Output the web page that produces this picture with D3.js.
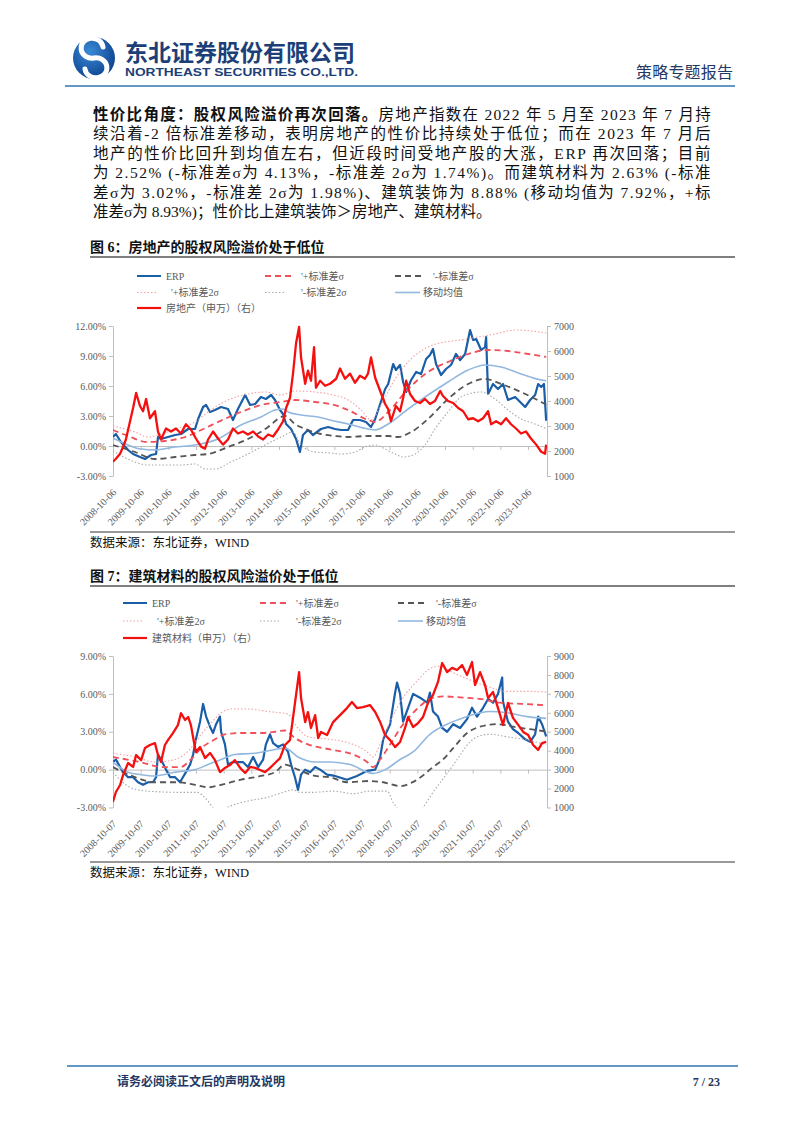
<!DOCTYPE html>
<html><head><meta charset="utf-8">
<script src="https://cdn.jsdelivr.net/npm/d3@7"></script>
<style>body{margin:0;background:#fff;} svg{display:block;}</style>
</head><body>
<svg id="page" width="802" height="1133"></svg>
<script>
// ---------------- DATA ----------------
// dates are decimal years
const xTickLabels1 = ["2008-10-06","2009-10-06","2010-10-06","2011-10-06","2012-10-06","2013-10-06","2014-10-06","2015-10-06","2016-10-06","2017-10-06","2018-10-06","2019-10-06","2020-10-06","2021-10-06","2022-10-06","2023-10-06"];
const xTickLabels2 = ["2008-10-07","2009-10-07","2010-10-07","2011-10-07","2012-10-07","2013-10-07","2014-10-07","2015-10-07","2016-10-07","2017-10-07","2018-10-07","2019-10-07","2020-10-07","2021-10-07","2022-10-07","2023-10-07"];
const leftTicks1 = [-3,0,3,6,9,12];
const rightTicks1 = [1000,2000,3000,4000,5000,6000,7000];
const leftTicks2 = [-3,0,3,6,9];
const rightTicks2 = [1000,2000,3000,4000,5000,6000,7000,8000,9000];

const erp1 = [[2008.76,0.9],[2008.87,1.2],[2009.05,0.4],[2009.31,-0.4],[2009.49,-0.8],[2009.74,-1.1],[2009.92,-1.3],[2010.14,-0.9],[2010.32,-0.8],[2010.39,0.9],[2010.50,0.7],[2010.75,0.9],[2011.01,1.1],[2011.22,1.2],[2011.48,1.7],[2011.73,1.7],[2011.84,2.7],[2012.02,3.9],[2012.13,4.1],[2012.27,3.4],[2012.45,3.6],[2012.67,3.9],[2012.92,3.7],[2013.10,2.6],[2013.28,3.7],[2013.54,5.1],[2013.72,4.1],[2013.90,4.2],[2014.11,4.9],[2014.29,4.7],[2014.48,5.1],[2014.62,4.6],[2014.80,3.6],[2014.91,3.2],[2015.02,2.2],[2015.20,1.7],[2015.38,0.7],[2015.52,-0.6],[2015.63,1.1],[2015.81,1.6],[2015.99,1.1],[2016.28,1.7],[2016.54,1.9],[2016.79,1.7],[2017.01,1.6],[2017.26,1.6],[2017.44,2.6],[2017.69,2.6],[2017.91,2.4],[2018.09,1.9],[2018.24,2.7],[2018.42,4.2],[2018.60,5.7],[2018.71,6.2],[2018.89,8.2],[2018.99,7.6],[2019.14,8.1],[2019.25,6.4],[2019.36,5.4],[2019.54,6.6],[2019.72,7.4],[2019.90,7.2],[2020.08,8.7],[2020.22,9.1],[2020.33,9.7],[2020.44,8.2],[2020.62,7.1],[2020.80,7.7],[2020.98,8.1],[2021.16,9.2],[2021.31,8.6],[2021.49,9.2],[2021.67,11.6],[2021.78,10.6],[2021.89,10.7],[2022.07,9.6],[2022.21,9.9],[2022.25,10.9],[2022.32,5.2],[2022.50,6.2],[2022.68,5.7],[2022.86,6.2],[2023.04,4.6],[2023.30,4.9],[2023.48,4.4],[2023.66,3.9],[2023.84,4.6],[2024.02,5.1],[2024.13,6.2],[2024.24,5.9],[2024.34,6.2],[2024.42,2.52]];
const idx1 = [[2008.76,1570],[2008.87,1690],[2009.02,1890],[2009.13,2175],[2009.23,2460],[2009.38,3190],[2009.49,3720],[2009.60,4320],[2009.74,3800],[2009.85,3590],[2009.96,4080],[2010.10,3310],[2010.28,3590],[2010.39,2780],[2010.50,2460],[2010.68,2900],[2010.86,2780],[2011.04,2900],[2011.22,2700],[2011.40,3070],[2011.58,2860],[2011.76,2500],[2011.95,2175],[2012.09,2095],[2012.20,2460],[2012.38,2780],[2012.56,2500],[2012.74,2255],[2012.92,2460],[2013.10,2900],[2013.28,2700],[2013.46,2780],[2013.64,2660],[2013.83,2780],[2014.01,2580],[2014.19,2460],[2014.37,2660],[2014.55,2580],[2014.73,2860],[2014.91,3190],[2015.02,3720],[2015.16,4120],[2015.27,5095],[2015.38,6310],[2015.49,6960],[2015.56,5740],[2015.71,4690],[2015.81,5215],[2015.92,4810],[2016.03,6150],[2016.10,4530],[2016.25,4810],[2016.43,4610],[2016.61,4690],[2016.83,4890],[2016.97,5300],[2017.15,4890],[2017.33,5095],[2017.51,4730],[2017.69,5010],[2017.87,4890],[2017.98,5095],[2018.09,5740],[2018.24,4930],[2018.42,4400],[2018.60,3880],[2018.71,3675],[2018.81,3190],[2018.99,3800],[2019.14,3590],[2019.25,4120],[2019.36,4810],[2019.50,4280],[2019.68,4000],[2019.86,3920],[2020.04,4080],[2020.22,3880],[2020.40,4000],[2020.59,4400],[2020.69,4200],[2020.87,4000],[2021.06,3920],[2021.24,3720],[2021.42,3590],[2021.60,3270],[2021.78,3310],[2021.96,3190],[2022.14,3310],[2022.32,3590],[2022.43,3070],[2022.61,3190],[2022.79,3070],[2022.97,3310],[2023.15,3070],[2023.33,2900],[2023.51,2700],[2023.69,2780],[2023.87,2500],[2024.06,2255],[2024.24,1970],[2024.38,1890],[2024.42,2255]];
const mean1 = [[2008.76,0.8],[2009.31,0.1],[2009.78,-0.3],[2010.28,-0.4],[2011.01,-0.1],[2011.73,0.1],[2012.56,0.7],[2013.39,2.1],[2014.11,2.9],[2014.62,3.6],[2014.91,3.7],[2015.09,3.4],[2015.56,3.1],[2016.18,2.9],[2016.61,2.6],[2017.26,2.2],[2017.98,1.7],[2018.24,1.6],[2018.71,2.2],[2019.43,3.7],[2020.15,5.1],[2020.87,6.4],[2021.60,7.6],[2022.21,8.1],[2022.79,7.9],[2023.51,7.2],[2024.24,6.6],[2024.42,6.52]];
const up1 = [[2008.76,1.6],[2009.31,1.0],[2009.99,0.4],[2010.64,0.5],[2011.37,0.9],[2011.95,1.6],[2012.56,2.4],[2013.39,3.4],[2014.11,4.1],[2014.84,4.4],[2015.34,4.6],[2016.07,4.4],[2016.61,4.2],[2017.26,3.6],[2017.98,2.6],[2018.24,2.4],[2018.71,3.4],[2019.43,5.7],[2020.15,7.4],[2020.87,8.4],[2021.60,9.2],[2022.32,9.6],[2023.04,9.5],[2023.77,9.2],[2024.42,8.91]];
const dn1 = [[2008.76,0.1],[2009.56,-0.6],[2010.28,-1.3],[2011.01,-1.1],[2011.73,-0.9],[2012.20,-0.8],[2012.92,-0.1],[2013.64,0.7],[2014.37,1.9],[2014.84,2.9],[2014.98,3.0],[2015.34,2.2],[2015.81,1.6],[2016.28,1.2],[2016.79,1.0],[2017.26,0.9],[2017.98,1.0],[2018.71,1.0],[2019.07,0.9],[2019.54,1.4],[2020.15,2.7],[2020.87,4.7],[2021.60,6.2],[2022.21,6.7],[2022.79,6.2],[2023.51,5.4],[2024.24,4.4],[2024.42,4.13]];
const up2s1 = [[2008.76,2.0],[2009.56,1.4],[2010.03,0.9],[2010.39,1.1],[2011.01,1.7],[2011.73,2.4],[2012.20,3.4],[2012.92,4.6],[2013.64,5.2],[2014.26,5.4],[2014.84,5.1],[2015.34,5.5],[2016.07,5.4],[2016.54,5.2],[2017.26,4.6],[2017.73,3.6],[2018.09,2.6],[2018.45,4.1],[2018.96,6.7],[2019.54,8.7],[2020.15,9.9],[2020.77,10.4],[2021.34,10.6],[2021.96,10.9],[2022.57,11.2],[2023.30,11.6],[2023.87,11.5],[2024.42,11.30]];
const dn2s1 = [[2008.76,-0.5],[2009.56,-1.6],[2010.03,-1.9],[2010.50,-1.9],[2011.22,-1.9],[2011.73,-1.8],[2012.09,-2.3],[2012.45,-2.3],[2013.03,-1.6],[2013.64,-0.8],[2014.26,0.1],[2014.84,0.9],[2015.27,1.4],[2015.56,0.1],[2016.07,-0.6],[2016.61,-0.7],[2017.01,-0.8],[2017.51,-0.6],[2017.87,-0.1],[2018.24,0.1],[2018.60,-0.3],[2018.96,-0.8],[2019.25,-1.1],[2019.68,-0.8],[2020.04,0.1],[2020.40,1.7],[2020.87,3.4],[2021.34,4.9],[2021.60,5.2],[2022.07,5.4],[2022.57,4.7],[2023.04,3.6],[2023.51,2.7],[2024.02,2.2],[2024.42,1.74]];

const erp2 = [[2008.76,0.6],[2008.87,0.8],[2009.02,0.2],[2009.13,-0.2],[2009.31,-0.6],[2009.49,-0.6],[2009.67,-1.0],[2009.85,-1.2],[2010.03,-1.0],[2010.21,-1.0],[2010.32,-0.6],[2010.39,1.2],[2010.50,0.8],[2010.68,0.0],[2010.83,-0.6],[2011.01,-0.6],[2011.19,-1.0],[2011.29,-0.6],[2011.40,-0.2],[2011.55,0.4],[2011.66,1.2],[2011.76,2.4],[2011.91,3.8],[2012.02,5.2],[2012.13,4.2],[2012.27,3.4],[2012.38,2.9],[2012.49,3.6],[2012.63,4.2],[2012.67,3.0],[2012.81,2.0],[2012.92,0.4],[2013.10,0.6],[2013.28,0.6],[2013.46,0.6],[2013.64,0.2],[2013.83,1.0],[2014.01,0.2],[2014.19,0.8],[2014.29,2.0],[2014.44,2.8],[2014.55,2.1],[2014.73,1.8],[2014.91,2.0],[2015.09,1.4],[2015.20,0.4],[2015.34,-0.6],[2015.45,-1.6],[2015.56,-0.4],[2015.71,0.0],[2015.89,-0.2],[2016.07,0.2],[2016.25,0.0],[2016.50,-0.4],[2016.79,-0.5],[2017.22,-0.8],[2017.58,-0.5],[2017.95,-0.1],[2018.24,0.0],[2018.34,0.5],[2018.42,1.0],[2018.53,2.4],[2018.78,3.6],[2018.96,6.1],[2019.03,6.9],[2019.14,6.0],[2019.25,3.8],[2019.43,4.9],[2019.61,6.0],[2019.86,5.7],[2020.12,5.3],[2020.22,6.1],[2020.33,4.6],[2020.51,4.2],[2020.66,3.3],[2020.84,3.0],[2021.06,3.6],[2021.31,3.3],[2021.56,4.0],[2021.74,4.9],[2021.92,4.2],[2022.14,4.9],[2022.32,5.6],[2022.50,5.3],[2022.68,6.0],[2022.83,7.3],[2022.86,5.4],[2023.04,3.8],[2023.22,3.2],[2023.41,2.9],[2023.66,2.4],[2023.84,2.2],[2024.02,2.8],[2024.13,4.2],[2024.27,3.6],[2024.42,2.63]];
const idx2 = [[2008.76,1290],[2008.87,1820],[2009.02,2190],[2009.13,2720],[2009.31,3350],[2009.49,3140],[2009.60,3770],[2009.78,3500],[2009.92,4140],[2010.10,4300],[2010.28,4400],[2010.39,3770],[2010.50,3400],[2010.64,4300],[2010.75,4560],[2010.93,4930],[2011.11,5350],[2011.22,5980],[2011.37,5620],[2011.48,5780],[2011.58,5350],[2011.69,4460],[2011.76,3930],[2011.91,4190],[2012.09,3610],[2012.27,3880],[2012.45,3500],[2012.63,2870],[2012.81,3090],[2012.99,3240],[2013.17,3500],[2013.36,3090],[2013.54,2820],[2013.72,3140],[2013.90,3090],[2014.08,2980],[2014.26,2870],[2014.44,3090],[2014.62,3350],[2014.80,3610],[2014.98,4300],[2015.16,4560],[2015.27,5730],[2015.38,6940],[2015.49,8150],[2015.56,6780],[2015.71,5510],[2015.81,6040],[2015.92,5200],[2016.07,5880],[2016.18,4670],[2016.28,4990],[2016.50,4830],[2016.72,5510],[2016.97,5880],[2017.22,6250],[2017.40,6570],[2017.58,6250],[2017.80,6300],[2018.05,6410],[2018.24,6040],[2018.42,5510],[2018.60,4830],[2018.78,4560],[2018.96,4190],[2019.14,4460],[2019.32,5200],[2019.43,5780],[2019.61,5250],[2019.79,5460],[2019.97,5780],[2020.15,6520],[2020.33,6940],[2020.51,7630],[2020.66,8630],[2020.84,8150],[2021.02,8370],[2021.20,8260],[2021.38,8520],[2021.56,8000],[2021.74,8680],[2021.85,7470],[2022.03,8150],[2022.21,7470],[2022.32,6780],[2022.50,7100],[2022.68,6250],[2022.86,5360],[2023.04,6520],[2023.22,5730],[2023.41,5360],[2023.59,4990],[2023.77,4830],[2023.95,4300],[2024.13,4040],[2024.27,4400],[2024.42,4460]];
const mean2 = [[2008.76,0.6],[2009.31,-0.2],[2009.78,-0.4],[2010.28,-0.5],[2011.01,-0.2],[2011.73,0.0],[2012.20,0.4],[2012.67,0.8],[2013.17,1.2],[2013.90,1.3],[2014.62,1.6],[2014.98,1.7],[2015.45,1.0],[2016.07,0.6],[2016.61,0.6],[2017.33,0.4],[2018.16,-0.3],[2018.60,0.0],[2019.14,0.8],[2019.61,1.4],[2020.22,2.8],[2020.84,3.6],[2021.42,4.1],[2022.03,4.5],[2022.39,4.6],[2023.01,4.5],[2023.73,4.2],[2024.42,4.06]];
const up2 = [[2008.76,1.0],[2009.74,0.6],[2010.57,0.2],[2011.19,0.2],[2011.58,0.8],[2011.95,1.7],[2012.45,2.4],[2012.81,2.8],[2013.39,2.9],[2014.11,2.9],[2014.62,3.0],[2014.98,3.1],[2015.34,2.5],[2015.81,2.0],[2016.61,1.6],[2017.44,1.2],[2017.95,0.6],[2018.16,0.2],[2018.42,0.8],[2018.78,2.0],[2019.25,3.6],[2019.75,4.8],[2020.22,5.6],[2020.69,5.8],[2021.42,5.7],[2022.03,5.6],[2022.75,5.3],[2023.59,5.2],[2024.42,5.10]];
const dn2 = [[2008.76,0.2],[2009.56,-0.6],[2010.28,-1.0],[2011.01,-1.0],[2011.73,-1.2],[2012.20,-1.4],[2012.67,-1.2],[2013.39,-0.8],[2014.11,-0.5],[2014.62,-0.2],[2014.98,0.4],[2015.45,0.0],[2016.07,-0.5],[2016.61,-0.6],[2017.22,-1.0],[2018.05,-0.9],[2018.53,-1.0],[2019.14,-1.3],[2019.75,-0.8],[2020.33,0.2],[2020.69,0.8],[2021.06,1.7],[2021.56,2.9],[2022.03,3.4],[2022.65,3.6],[2023.22,3.4],[2023.84,3.2],[2024.42,3.02]];
const up2s2 = [[2008.76,1.3],[2009.56,1.0],[2010.28,0.6],[2011.01,0.8],[2011.58,1.7],[2011.95,2.8],[2012.31,3.7],[2012.67,4.5],[2013.03,4.8],[2013.64,4.8],[2014.37,4.6],[2015.09,4.4],[2015.34,3.6],[2015.81,2.6],[2016.61,2.4],[2017.44,2.0],[2017.95,1.4],[2018.16,1.0],[2018.42,2.0],[2018.78,3.8],[2019.25,5.7],[2019.75,7.0],[2020.22,8.0],[2020.59,8.2],[2020.95,7.8],[2021.56,7.2],[2022.28,6.6],[2023.01,6.2],[2023.73,6.2],[2024.42,6.14]];
const dn2s2 = [[2008.76,-0.2],[2009.38,-1.4],[2009.99,-1.7],[2011.19,-1.8],[2011.80,-1.8],[2012.16,-2.4],[2012.38,-3.0],[2012.63,-3.3],[2012.99,-2.9],[2013.61,-2.5],[2014.33,-2.2],[2014.91,-1.8],[2015.27,-1.6],[2015.52,-1.8],[2015.99,-1.8],[2016.72,-1.7],[2017.44,-1.9],[2018.05,-1.7],[2018.67,-1.7],[2018.89,-2.6],[2019.03,-3.0],[2019.32,-3.8],[2019.68,-3.8],[2019.97,-3.0],[2020.33,-1.8],[2020.84,-0.3],[2021.20,0.8],[2021.67,2.2],[2021.92,2.6],[2022.39,2.8],[2023.01,2.6],[2023.59,2.4],[2024.42,1.98]];

// ---------------- STYLE ----------------
const CJK = "'Noto Sans CJK SC', sans-serif";
const MIX = "'Liberation Serif', 'Noto Sans CJK SC', serif";
const SERIF = "'Liberation Serif', serif";
const C = {erp:'#1a5ea8', idx:'#f51010', up:'#f0505a', dn:'#555555', up2:'#f4a0a4', dn2:'#a8a8a8', mean:'#92b8e0', axis:'#bfbfbf', lab:'#595959'};

const svg = d3.select('#page');
svg.append('rect').attr('width',802).attr('height',1133).attr('fill','#fff');

// ---------------- HEADER ----------------
const hdr = svg.append('g');
const grad = svg.append('defs').append('radialGradient').attr('id','lg').attr('cx','40%').attr('cy','35%').attr('r','70%');
grad.append('stop').attr('offset','0%').attr('stop-color','#3a8ad6');
grad.append('stop').attr('offset','100%').attr('stop-color','#0c3f8c');
hdr.append('circle').attr('cx',94).attr('cy',58).attr('r',21).attr('fill','url(#lg)');
hdr.append('path').attr('d','M103 47 A11 10 0 1 0 94 58 A11 10 0 1 1 85 69').attr('fill','none').attr('stroke','#fff').attr('stroke-width',5).attr('stroke-linecap','round');
hdr.append('text').attr('x',125).attr('y',61).attr('font-family',CJK).attr('font-weight',700).attr('font-size',23).attr('fill','#1d3f78').attr('textLength',230).attr('lengthAdjust','spacingAndGlyphs').text('东北证券股份有限公司');
hdr.append('text').attr('x',125).attr('y',76).attr('font-family',"'Liberation Sans', sans-serif").attr('font-weight',700).attr('font-size',11).attr('fill','#1d3f78').attr('textLength',233).attr('lengthAdjust','spacingAndGlyphs').text('NORTHEAST SECURITIES CO.,LTD.');
hdr.append('text').attr('x',636).attr('y',78).attr('font-family',CJK).attr('font-size',16).attr('fill','#1f3864').attr('textLength',97).text('策略专题报告');
hdr.append('line').attr('x1',65).attr('x2',735).attr('y1',86).attr('y2',86).attr('stroke','#2e75b6').attr('stroke-width',1.5);

// ---------------- PARAGRAPH ----------------
const para = [
  [['性价比角度：股权风险溢价再次回落。',true],['房地产指数在 2022 年 5 月至 2023 年 7 月持',false]],
  [['续沿着-2 倍标准差移动，表明房地产的性价比持续处于低位；而在 2023 年 7 月后',false]],
  [['地产的性价比回升到均值左右，但近段时间受地产股的大涨，ERP 再次回落；目前',false]],
  [['为 2.52% (-标准差σ为 4.13%，-标准差 2σ为 1.74%)。而建筑材料为 2.63% (-标准',false]],
  [['差σ为 3.02%，-标准差 2σ为 1.98%)、建筑装饰为 8.88% (移动均值为 7.92%，+标',false]],
  [['准差σ为 8.93%)；性价比上建筑装饰＞房地产、建筑材料。',false]]
];
para.forEach((segs,i) => {
  const t = svg.append('text').attr('x',93).attr('y',120 + i*19.4).attr('font-family',MIX).attr('font-size',15.5).attr('fill','#111');
  segs.forEach(s => t.append('tspan').attr('font-weight', s[1]?700:400).text(s[0]));
  if (i < para.length-1) {
    const n = t.node().getNumberOfChars();
    const w = t.node().getComputedTextLength();
    t.attr('letter-spacing', Math.max(0,(619 - w)/n));
  }
});

// ---------------- CHART ----------------
const X0 = 2008.764, X1 = 2024.45;
function drawChart(cfg) {
  const g = svg.append('g');
  g.append('text').attr('x',90).attr('y',cfg.titleY).attr('font-family',MIX).attr('font-weight',700).attr('font-size',14).attr('fill','#111').text(cfg.title);
  g.append('line').attr('x1',90).attr('x2',735).attr('y1',cfg.titleY+5).attr('y2',cfg.titleY+5).attr('stroke','#555').attr('stroke-width',1.5);
  g.append('line').attr('x1',90).attr('x2',735).attr('y1',cfg.srcY-11).attr('y2',cfg.srcY-11).attr('stroke','#777').attr('stroke-width',1.5);
  g.append('text').attr('x',90).attr('y',cfg.srcY+4).attr('font-family',MIX).attr('font-size',12.5).attr('fill','#111').text('数据来源：东北证券，WIND');

  const x = d3.scaleLinear().domain([X0, X1]).range([113, 547]);
  const yL = d3.scaleLinear().domain([-3, cfg.lmax]).range([cfg.bottom, cfg.top]);
  const yR = d3.scaleLinear().domain([1000, cfg.rmax]).range([cfg.bottom, cfg.top]);

  const styleAxis = a => {
    a.select('.domain').attr('stroke',C.axis);
    a.selectAll('.tick line').attr('stroke',C.axis);
    a.selectAll('.tick text').attr('fill',C.lab).attr('font-family',SERIF).attr('font-size',10);
  };
  g.append('g').attr('transform','translate(113,0)')
    .call(d3.axisLeft(yL).tickValues(cfg.lticks).tickFormat(d=>d.toFixed(2)+'%').tickSize(4).tickSizeOuter(0).tickPadding(3)).call(styleAxis);
  g.append('g').attr('transform','translate(547,0)')
    .call(d3.axisRight(yR).tickValues(cfg.rticks).tickFormat(d=>d).tickSize(4).tickSizeOuter(0).tickPadding(3)).call(styleAxis);
  const tickYears = cfg.xlabels.map((s,i)=> X0 + i);
  g.append('g').attr('transform',`translate(0,${yL(0)})`)
    .call(d3.axisBottom(x).tickValues(tickYears).tickFormat('').tickSize(4).tickSizeOuter(0)).call(styleAxis);
  g.append('g').selectAll('text').data(cfg.xlabels).join('text')
    .attr('transform',(d,i)=>`translate(${x(tickYears[i])+4},${cfg.bottom+17}) rotate(-45)`)
    .attr('text-anchor','end').attr('font-family',SERIF).attr('font-size',10).attr('fill',C.lab).text(d=>d);

  const cid = 'clip'+cfg.id;
  svg.select('defs').append('clipPath').attr('id',cid).append('rect')
    .attr('x',113).attr('y',cfg.top-2).attr('width',434).attr('height',cfg.bottom-cfg.top+2);
  const pl = g.append('g').attr('clip-path',`url(#${cid})`);
  const lineL = d3.line().x(d=>x(d[0])).y(d=>yL(d[1]));
  const smoothL = d3.line().x(d=>x(d[0])).y(d=>yL(d[1])).curve(d3.curveMonotoneX);
  const lineR = d3.line().x(d=>x(d[0])).y(d=>yR(d[1]));
  const add = (data, gen, color, w, dash) => pl.append('path').datum(data).attr('d',gen).attr('fill','none')
      .attr('stroke',color).attr('stroke-width',w).attr('stroke-dasharray',dash||null).attr('stroke-linejoin','round');
  add(cfg.erp, lineL, C.erp, 2.2);
  add(cfg.up, smoothL, C.up, 1.8, '6,4');
  add(cfg.dn, smoothL, C.dn, 1.8, '6,4');
  add(cfg.up2, smoothL, C.up2, 1.1, '1.5,2');
  add(cfg.dn2, smoothL, C.dn2, 1.1, '1.5,2');
  add(cfg.mean, smoothL, C.mean, 1.6);
  add(cfg.idx, lineR, C.idx, 2.3);

  const lg = g.append('g').attr('font-family',MIX).attr('font-size',10).attr('fill',C.lab);
  cfg.legend.forEach(it => {
    lg.append('line').attr('x1',it.x1).attr('x2',it.x2).attr('y1',it.y).attr('y2',it.y)
      .attr('stroke',it.c).attr('stroke-width',it.w).attr('stroke-dasharray',it.d||null);
    lg.append('text').attr('x',it.tx).attr('y',it.y+3.5).text(it.t);
  });
}

const leg = (xs, ys, name) => [
  {x1:xs[0],x2:xs[0]+24,tx:xs[0]+29,y:ys[0],c:C.erp,w:2,t:'ERP'},
  {x1:xs[1],x2:xs[1]+28,tx:xs[1]+36,y:ys[0],c:C.up,w:1.8,d:'6,4',t:"'+标准差σ"},
  {x1:xs[2],x2:xs[2]+28,tx:xs[2]+38,y:ys[0],c:C.dn,w:1.8,d:'6,4',t:"'-标准差σ"},
  {x1:xs[0],x2:xs[0]+20,tx:xs[0]+34,y:ys[1],c:C.up2,w:1,d:'1.5,2',t:"'+标准差2σ"},
  {x1:xs[1],x2:xs[1]+20,tx:xs[1]+36,y:ys[1],c:C.dn2,w:1,d:'1.5,2',t:"'-标准差2σ"},
  {x1:xs[2],x2:xs[2]+25,tx:xs[2]+28,y:ys[1],c:C.mean,w:1.6,t:'移动均值'},
  {x1:xs[0],x2:xs[0]+24,tx:xs[0]+29,y:ys[2],c:C.idx,w:2.2,t:name}
];

drawChart({id:1, title:'图 6：房地产的股权风险溢价处于低位', titleY:252, srcY:543,
  top:326, bottom:476, lmax:12, rmax:7000, lticks:leftTicks1, rticks:rightTicks1, xlabels:xTickLabels1,
  erp:erp1, idx:idx1, mean:mean1, up:up1, dn:dn1, up2:up2s1, dn2:dn2s1,
  legend: leg([137,265,395],[276,292.5,308],'房地产（申万）（右）')});
drawChart({id:2, title:'图 7：建筑材料的股权风险溢价处于低位', titleY:581, srcY:873,
  top:656, bottom:807.5, lmax:9, rmax:9000, lticks:leftTicks2, rticks:rightTicks2, xlabels:xTickLabels2,
  erp:erp2, idx:idx2, mean:mean2, up:up2, dn:dn2, up2:up2s2, dn2:dn2s2,
  legend: leg([123,260,398],[603,621,638],'建筑材料（申万）（右）')});

// ---------------- FOOTER ----------------
svg.append('line').attr('x1',67).attr('x2',738).attr('y1',1066).attr('y2',1066).attr('stroke','#2e75b6').attr('stroke-width',1.5);
svg.append('text').attr('x',117).attr('y',1086).attr('font-family',CJK).attr('font-weight',700).attr('font-size',12).attr('fill','#1f3864').text('请务必阅读正文后的声明及说明');
svg.append('text').attr('x',720).attr('y',1086).attr('text-anchor','end').attr('font-family',SERIF).attr('font-weight',700).attr('font-size',12).attr('fill','#1f3864').text('7 / 23');
</script>
</body></html>
